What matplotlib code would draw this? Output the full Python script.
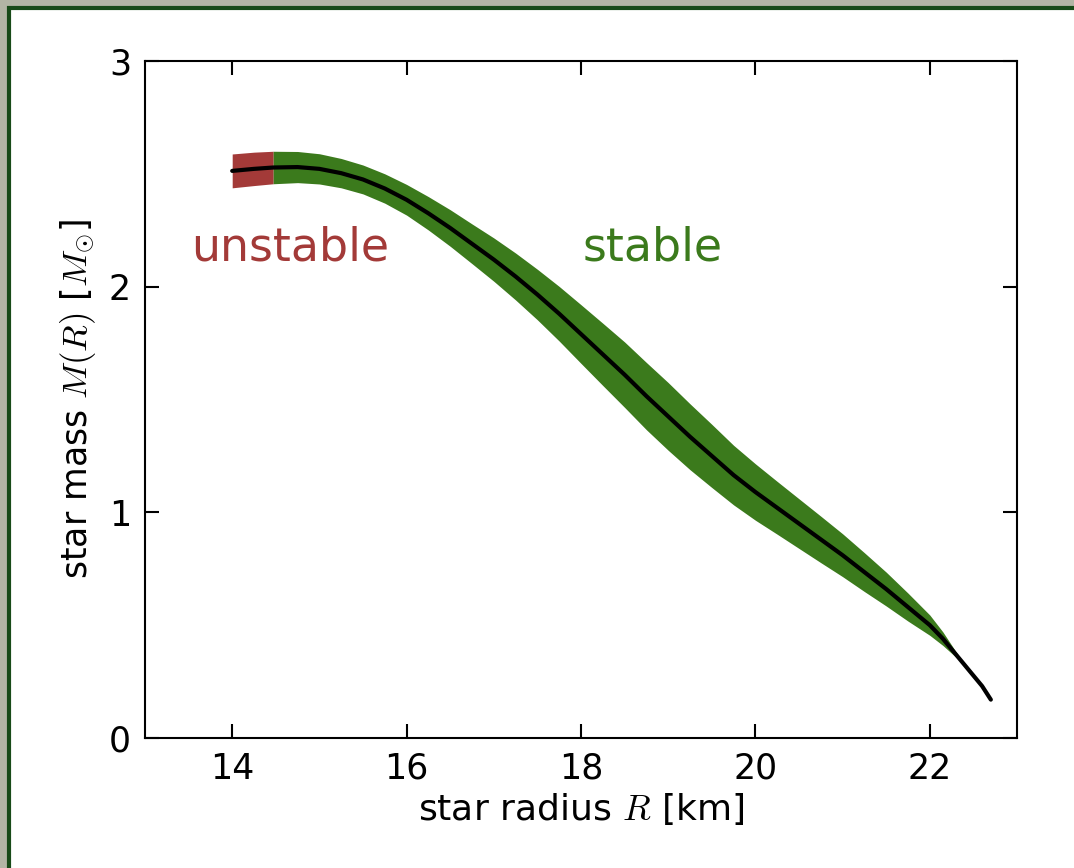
import numpy as np
import matplotlib.pyplot as plt
from matplotlib.patches import Rectangle

plt.rcParams['mathtext.fontset'] = 'cm'
plt.rcParams['font.family'] = 'DejaVu Sans'

# mass-radius curve
radius = np.array([14.0, 14.25, 14.47, 14.75, 15.0, 15.25, 15.5, 15.75, 16.0, 16.25, 16.5,
                   16.75, 17.0, 17.25, 17.5, 17.75, 18.0, 18.25, 18.5, 18.75, 19.0, 19.25,
                   19.5, 19.75, 20.0, 20.25, 20.5, 20.75, 21.0, 21.25, 21.5, 21.75, 22.0,
                   22.15, 22.3, 22.45, 22.6, 22.7])
mass = np.array([2.513, 2.522, 2.528, 2.530, 2.522, 2.503, 2.475, 2.435, 2.385, 2.325, 2.26,
                 2.19, 2.12, 2.045, 1.965, 1.88, 1.79, 1.70, 1.61, 1.515, 1.425, 1.335,
                 1.25, 1.165, 1.09, 1.02, 0.95, 0.88, 0.81, 0.735, 0.66, 0.58, 0.50,
                 0.44, 0.37, 0.30, 0.23, 0.17])
half_width = np.array([0.075, 0.074, 0.072, 0.069, 0.067, 0.065, 0.064, 0.065, 0.068, 0.074, 0.081,
                       0.088, 0.096, 0.104, 0.112, 0.121, 0.13, 0.138, 0.145, 0.149, 0.15, 0.146,
                       0.14, 0.132, 0.125, 0.117, 0.11, 0.103, 0.095, 0.086, 0.075, 0.062, 0.045,
                       0.03, 0.012, 0.0, 0.0, 0.0])
r_split = 14.47          # end of unstable branch

x_ticks = [14, 16, 18, 20, 22]
y_ticks = [0, 1, 2, 3]

red = '#a33a38'
green = '#3b7a1c'

fig = plt.figure(figsize=(10.74, 8.68), dpi=100)
fig.patch.set_facecolor('#b3b5a5')
# white card with dark green border
fig.patches.append(Rectangle((9 / 1074, -0.1), 1.2, 1.1 - 8 / 868, transform=fig.transFigure,
                             facecolor='white', edgecolor='#184a18', linewidth=3, zorder=-5))

ax = fig.add_axes([145 / 1074, 1 - 738 / 868, (1017 - 145) / 1074, (738 - 61) / 868])
ax.set_facecolor('white')

unst = radius <= r_split
stab = (radius >= r_split) & (radius <= 22.45)
ax.fill_between(radius[unst], mass[unst] - half_width[unst], mass[unst] + half_width[unst],
                color=red, linewidth=0)
ax.fill_between(radius[stab], mass[stab] - half_width[stab], mass[stab] + half_width[stab],
                color=green, linewidth=0)
ax.plot(radius, mass, color='black', linewidth=3.0, solid_capstyle='round')

ax.text(14.66, 2.17, 'unstable', color=red, fontsize=33, ha='center', va='center')
ax.text(18.82, 2.17, 'stable', color=green, fontsize=33, ha='center', va='center')

ax.set_xlim(13, 23)
ax.set_ylim(0, 3)
ax.set_xticks(x_ticks)
ax.set_yticks(y_ticks)
ax.tick_params(direction='in', length=10, width=1.5, labelsize=25, pad=10,
               top=True, right=True)
for s in ax.spines.values():
    s.set_linewidth(1.5)
ax.set_xlabel(r'star radius $R$ [km]', fontsize=26, labelpad=4)
ax.set_ylabel(r'star mass $M(R)$ [$M_{\odot}$]', fontsize=25, labelpad=8)

fig.savefig('out.png', dpi=100, facecolor=fig.get_facecolor())
